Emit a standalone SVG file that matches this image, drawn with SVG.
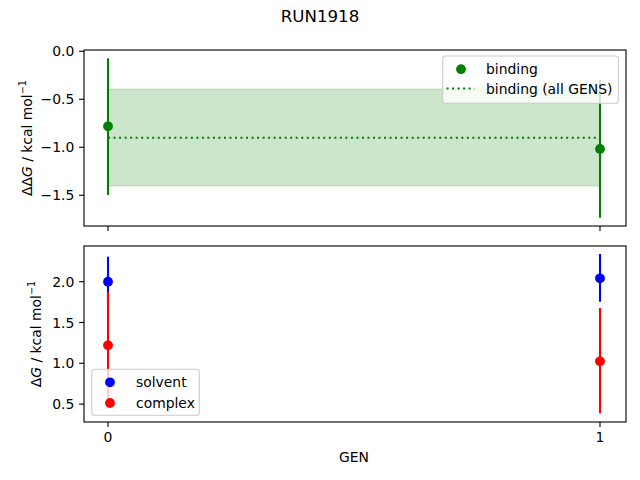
<svg xmlns="http://www.w3.org/2000/svg" width="640" height="480" viewBox="0 0 640 480">
<style>
text{font-family:"DejaVu Sans",sans-serif;fill:#000}
.tk{font-size:13.9px}
.tkl{font-size:13.9px;text-anchor:end}
.tkc{font-size:13.9px;text-anchor:middle}
.spine{fill:none;stroke:#000;stroke-width:1.11}
.tick{stroke:#000;stroke-width:1.11}
.eg{stroke:#008000;stroke-width:2.08}
.eb{stroke:#0000ff;stroke-width:2.08}
.er{stroke:#ff0000;stroke-width:2.08}
.leg{fill:#fff;fill-opacity:0.8;stroke:#cccccc;stroke-width:1.11}
</style>
<rect width="640" height="480" fill="#fff"/>
<text x="320" y="21.7" style="font-size:16.67px" text-anchor="middle">RUN1918</text>

<g id="top-axes">
<rect x="108" y="89" width="492" height="97" fill="#008000" fill-opacity="0.2" stroke="#008000" stroke-opacity="0.2" stroke-width="1"/>
<line x1="108" y1="137.7" x2="600" y2="137.7" stroke="#008000" stroke-width="2.08" stroke-dasharray="2.08 3.44"/>
<g id="binding-0"><line class="eg" x1="108" y1="58.3" x2="108" y2="195"/><circle cx="108" cy="126.3" r="4.9" fill="#008000"/></g>
<g id="binding-1"><line class="eg" x1="600" y1="80" x2="600" y2="217.7"/><circle cx="600" cy="149" r="4.9" fill="#008000"/></g>
<rect class="spine" x="84" y="50" width="542" height="176"/>
<g class="tick">
<line x1="79.1" y1="51.3" x2="84" y2="51.3"/>
<line x1="79.1" y1="99.3" x2="84" y2="99.3"/>
<line x1="79.1" y1="147.3" x2="84" y2="147.3"/>
<line x1="79.1" y1="195.3" x2="84" y2="195.3"/>
<line x1="108" y1="226" x2="108" y2="230.9"/>
<line x1="600" y1="226" x2="600" y2="230.9"/>
</g>
<text class="tkl" x="74.3" y="56.3">0.0</text>
<text class="tkl" x="74.3" y="104.3">−0.5</text>
<text class="tkl" x="74.3" y="152.3">−1.0</text>
<text class="tkl" x="74.3" y="200.3">−1.5</text>
<text class="tk" transform="translate(31.5,138) rotate(-90)" text-anchor="middle">ΔΔ<tspan font-style="italic">G</tspan> / kcal mol<tspan font-size="9.7px" dy="-6">−1</tspan></text>
<g id="legend-top">
<rect class="leg" x="442.7" y="56" width="175.6" height="47.3" rx="2.8"/>
<circle cx="461" cy="69.2" r="4.9" fill="#008000"/>
<text class="tk" x="486" y="74">binding</text>
<line x1="446.5" y1="88.5" x2="474.5" y2="88.5" stroke="#008000" stroke-width="2.08" stroke-dasharray="2.08 3.44"/>
<text class="tk" x="486" y="94">binding (all GENS)</text>
</g>
</g>

<g id="bottom-axes">
<g id="solvent-0"><line class="eb" x1="108" y1="256.7" x2="108" y2="306.7"/><circle cx="108" cy="281.7" r="4.9" fill="#0000ff"/></g>
<g id="complex-0"><line class="er" x1="108" y1="291.7" x2="108" y2="399"/><circle cx="108" cy="345.3" r="4.9" fill="#ff0000"/></g>
<g id="solvent-1"><line class="eb" x1="600" y1="254" x2="600" y2="301.7"/><circle cx="600" cy="278.3" r="4.9" fill="#0000ff"/></g>
<g id="complex-1"><line class="er" x1="600" y1="308" x2="600" y2="413.3"/><circle cx="600" cy="361.3" r="4.9" fill="#ff0000"/></g>
<rect class="spine" x="84" y="246" width="542" height="176"/>
<g class="tick">
<line x1="79.1" y1="281.7" x2="84" y2="281.7"/>
<line x1="79.1" y1="322.5" x2="84" y2="322.5"/>
<line x1="79.1" y1="363.3" x2="84" y2="363.3"/>
<line x1="79.1" y1="404.1" x2="84" y2="404.1"/>
<line x1="108" y1="422" x2="108" y2="426.9"/>
<line x1="600" y1="422" x2="600" y2="426.9"/>
</g>
<text class="tkl" x="74.3" y="286.7">2.0</text>
<text class="tkl" x="74.3" y="327.5">1.5</text>
<text class="tkl" x="74.3" y="368.3">1.0</text>
<text class="tkl" x="74.3" y="409.1">0.5</text>
<text class="tkc" x="108" y="441.5">0</text>
<text class="tkc" x="600" y="441.5">1</text>
<text class="tk" x="354" y="461.7" text-anchor="middle">GEN</text>
<text class="tk" transform="translate(41,334) rotate(-90)" text-anchor="middle">Δ<tspan font-style="italic">G</tspan> / kcal mol<tspan font-size="9.7px" dy="-6">−1</tspan></text>
<g id="legend-bottom">
<rect class="leg" x="91.7" y="369.3" width="107.6" height="46" rx="2.8"/>
<circle cx="110" cy="382.3" r="4.9" fill="#0000ff"/>
<text class="tk" x="136" y="387">solvent</text>
<circle cx="110" cy="403" r="4.9" fill="#ff0000"/>
<text class="tk" x="136" y="407.7">complex</text>
</g>
</g>
</svg>
